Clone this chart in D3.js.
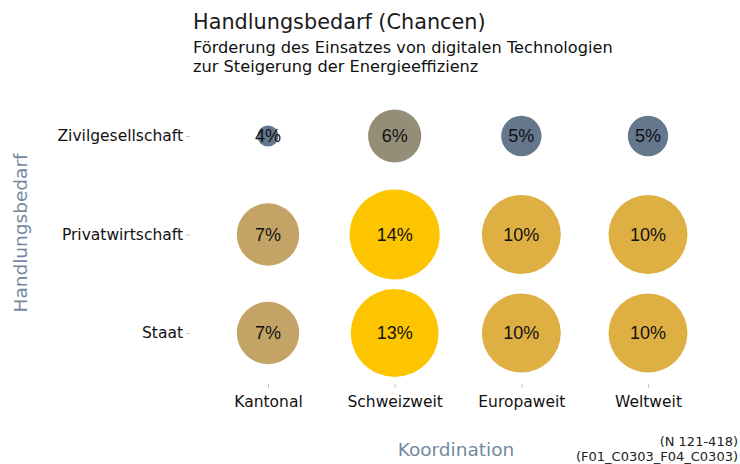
<!DOCTYPE html>
<html>
<head>
<meta charset="utf-8">
<script src="https://cdn.jsdelivr.net/npm/d3@7"></script>
<style>
  body { margin: 0; background: #fff; }
  svg { font-family: "DejaVu Sans", sans-serif; }
  .axis .domain { display: none; }
  .axis .tick line { stroke: #c8c8c8; }
</style>
</head>
<body>
<div id="chart"></div>
<script>
const columns = ["Kantonal", "Schweizweit", "Europaweit", "Weltweit"];
const rows = ["Zivilgesellschaft", "Privatwirtschaft", "Staat"];
const zivilgesellschaft = [4, 6, 5, 5];
const privatwirtschaft = [7, 14, 10, 10];
const staat = [7, 13, 10, 10];

const width = 740, height = 464;

const svg = d3.select("#chart")
    .append("svg")
        .attr("width", width)
        .attr("height", height);

// flatten the grid
const series = [zivilgesellschaft, privatwirtschaft, staat];
const cells = [];
rows.forEach(function(r, i) {
    columns.forEach(function(c, j) {
        cells.push({ row: r, col: c, value: series[i][j] });
    });
});

const x = d3.scalePoint().domain(columns).range([268, 648]);
const y = d3.scalePoint().domain(rows).range([136, 333]);

const r = d3.scalePow().exponent(-1)
    .domain([4, 14])
    .range([10.5, 45]);

const color = d3.scaleLinear()
    .domain([5, 7, 10, 13])
    .range(["#64778c", "#c4a466", "#deb044", "#fcc500"])
    .clamp(true);

// titles
svg.append("text")
    .attr("x", 193).attr("y", 29)
    .style("font-size", "20.8px")
    .style("fill", "#1a1a1a")
    .text("Handlungsbedarf (Chancen)");

svg.append("text")
    .attr("x", 193).attr("y", 53)
    .style("font-size", "16.2px")
    .style("fill", "#111")
    .text("Förderung des Einsatzes von digitalen Technologien");

svg.append("text")
    .attr("x", 193).attr("y", 72)
    .style("font-size", "16.2px")
    .style("fill", "#111")
    .text("zur Steigerung der Energieeffizienz");

// axes
const yAxis = svg.append("g")
    .attr("class", "axis")
    .attr("transform", "translate(190,0)")
    .call(d3.axisLeft(y).tickSize(4).tickPadding(3));
yAxis.selectAll("text")
    .style("font-family", "DejaVu Sans, sans-serif")
    .style("font-size", "15.5px")
    .style("fill", "#111");

const xAxis = svg.append("g")
    .attr("class", "axis")
    .attr("transform", "translate(0,384)")
    .call(d3.axisBottom(x).tickSize(4).tickPadding(8));
xAxis.selectAll("text")
    .style("font-family", "DejaVu Sans, sans-serif")
    .style("font-size", "15.5px")
    .style("fill", "#111");

// bubbles
const g = svg.append("g");
g.selectAll("circle")
    .data(cells)
    .enter()
    .append("circle")
        .attr("cx", function(d) { return x(d.col); })
        .attr("cy", function(d) { return y(d.row); })
        .attr("r", function(d) { return r(d.value); })
        .attr("fill", function(d) { return color(d.value); });

g.selectAll("text")
    .data(cells)
    .enter()
    .append("text")
        .attr("x", function(d) { return x(d.col); })
        .attr("y", function(d) { return y(d.row); })
        .attr("dy", "0.36em")
        .attr("text-anchor", "middle")
        .style("font-family", "'Liberation Sans', Arial, sans-serif")
        .style("font-size", "18px")
        .style("fill", "#111")
        .text(function(d) { return d.value + "%"; });

// axis titles
svg.append("text")
    .attr("transform", "translate(27,233) rotate(-90)")
    .attr("text-anchor", "middle")
    .style("font-size", "18.5px")
    .style("fill", "#7488a0")
    .text("Handlungsbedarf");

svg.append("text")
    .attr("x", 456).attr("y", 456)
    .attr("text-anchor", "middle")
    .style("font-size", "18.5px")
    .style("fill", "#7488a0")
    .text("Koordination");

// footnote
svg.append("text")
    .attr("x", 738).attr("y", 446)
    .attr("text-anchor", "end")
    .style("font-size", "13px")
    .style("fill", "#222")
    .text("(N 121-418)");

svg.append("text")
    .attr("x", 738).attr("y", 461)
    .attr("text-anchor", "end")
    .style("font-size", "13px")
    .style("fill", "#222")
    .text("(F01_C0303_F04_C0303)");
</script>
</body>
</html>
